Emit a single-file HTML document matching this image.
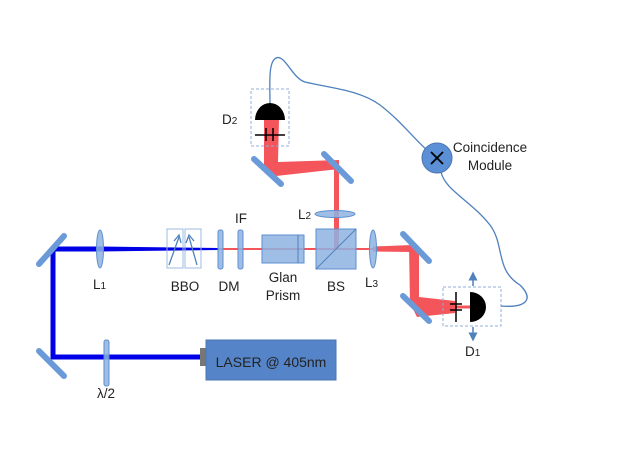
<!DOCTYPE html>
<html><head><style>
html,body{margin:0;padding:0;background:#fff;}
svg{display:block;}
text{font-family:"Liberation Sans",sans-serif;font-size:13.5px;fill:#222;}
</style></head><body>
<svg width="623" height="467" viewBox="0 0 623 467" xmlns="http://www.w3.org/2000/svg">
<defs>
<marker id="ah" markerWidth="6" markerHeight="6" refX="3" refY="3" orient="auto"><path d="M0,0 L6,3 L0,6 z" fill="#4f81bd"/></marker>
</defs>
<!-- blue beams -->
<polyline points="202,357 53,357 53,249 100,249" fill="none" stroke="#0000e6" stroke-width="5"/>
<polygon points="100,246.5 100,251.5 219,250 219,248" fill="#0000e6"/>
<!-- red thin beam -->
<line x1="219" y1="249" x2="373" y2="249" stroke="#f4555b" stroke-width="2"/>
<polygon points="373,246.5 412,245 412,252 373,251.5" fill="#f4555b"/>
<!-- red right down -->
<polygon points="409,246 419,246 419,297 455,301 455,313 417,317 410,303" fill="#f4555b"/>
<line x1="455" y1="307" x2="470" y2="307" stroke="#f4555b" stroke-width="3"/>
<!-- red up to D2 -->
<polygon points="334,250 339,250 339,163 334,163" fill="#f4555b"/>
<polygon points="264,120 279,120 278,162 339,160 339,169 276,176 264,172" fill="#f4555b"/>
<!-- mirrors -->
<g stroke="#6a9bd8" stroke-width="6" stroke-linecap="round" fill="none">
<line x1="39" y1="264" x2="64" y2="236"/>
<line x1="39" y1="351" x2="64" y2="376"/>
<line x1="403" y1="234" x2="429" y2="261"/>
<line x1="403" y1="296" x2="429" y2="321"/>
<line x1="324" y1="154" x2="351" y2="181"/>
<line x1="254" y1="159" x2="281" y2="184"/>
</g>
<!-- lenses -->
<g fill="#8db3e2" stroke="#5f8fcf" stroke-width="1" fill-opacity="0.85">
<ellipse cx="100" cy="249" rx="3.5" ry="19"/>
<ellipse cx="373" cy="249" rx="3.5" ry="19"/>
<ellipse cx="335" cy="214" rx="20" ry="3.5"/>
<rect x="104" y="340" width="5" height="46" rx="2"/>
<rect x="218" y="230" width="5" height="39" rx="2"/>
<rect x="238" y="230" width="5" height="39" rx="2"/>
<rect x="262" y="235" width="42" height="28"/>
<rect x="316" y="229" width="40" height="40"/>
</g>
<line x1="298" y1="235" x2="298" y2="263" stroke="#4f81bd" stroke-width="1"/>
<line x1="316" y1="269" x2="356" y2="229" stroke="#4f81bd" stroke-width="1"/>
<!-- BBO -->
<g fill="none" stroke="#9dbbe0" stroke-width="1">
<rect x="167" y="229" width="16" height="39"/>
<rect x="185" y="229" width="16" height="39"/>
</g>
<g stroke="#4f81bd" stroke-width="1.3" fill="none">
<line x1="169" y1="265" x2="179" y2="237"/><polyline points="174,241 179,235 181,243"/>
<line x1="197" y1="265" x2="189" y2="237"/><polyline points="186,243 189,235 194,241"/>
</g>
<!-- laser -->
<rect x="200" y="348" width="7" height="18" fill="#777"/>
<rect x="206" y="340" width="130" height="40" fill="#5585c8" stroke="#4a76b0"/>
<text x="271" y="367" text-anchor="middle" style="font-size:14px">LASER @ 405nm</text>
<!-- D2 -->
<rect x="251" y="89" width="38" height="57" fill="none" stroke="#8fb0d8" stroke-dasharray="3,2"/>
<path d="M255,120 A15,17 0 0 1 285,120 Z" fill="#000"/>
<line x1="255" y1="135" x2="285" y2="135" stroke="#000" stroke-width="1.5"/>
<line x1="266" y1="128" x2="266" y2="141" stroke="#000" stroke-width="1.5"/>
<line x1="273" y1="128" x2="273" y2="141" stroke="#000" stroke-width="1.5"/>
<!-- D1 -->
<rect x="443" y="287" width="58" height="39" fill="none" stroke="#8fb0d8" stroke-dasharray="3,2"/>
<path d="M470,292 A16,15 0 0 1 470,322 Z" fill="#000"/>
<line x1="456" y1="292" x2="456" y2="322" stroke="#000" stroke-width="1.5"/>
<line x1="450" y1="304" x2="462" y2="304" stroke="#000" stroke-width="1.5"/>
<line x1="450" y1="310" x2="462" y2="310" stroke="#000" stroke-width="1.5"/>
<line x1="473" y1="286" x2="473" y2="276" stroke="#4f81bd" stroke-width="1.5" marker-end="url(#ah)"/>
<line x1="473" y1="327" x2="473" y2="337" stroke="#4f81bd" stroke-width="1.5" marker-end="url(#ah)"/>
<!-- cable -->
<path d="M270,103 C270,85 268,62 276,58 C285,54 292,78 305,82 C330,88 360,90 380,105 C400,120 415,140 427,150" fill="none" stroke="#4f81bd" stroke-width="1.3"/>
<path d="M441,172 C445,190 470,200 490,225 C505,245 495,270 520,285 C535,300 525,308 501,306" fill="none" stroke="#4f81bd" stroke-width="1.3"/>
<!-- coincidence -->
<circle cx="437" cy="158" r="15" fill="#5b8fd6" stroke="#4a76b0"/>
<g stroke="#000" stroke-width="1.8"><line x1="431" y1="152" x2="443" y2="164"/><line x1="443" y1="152" x2="431" y2="164"/></g>
<text x="490" y="152" text-anchor="middle">Coincidence</text>
<text x="490" y="170" text-anchor="middle">Module</text>
<!-- labels -->
<text x="93" y="289">L<tspan style="font-size:10px">1</tspan></text>
<text x="185" y="291" text-anchor="middle">BBO</text>
<text x="229" y="291" text-anchor="middle">DM</text>
<text x="241" y="223" text-anchor="middle">IF</text>
<text x="283" y="282" text-anchor="middle">Glan</text>
<text x="283" y="300" text-anchor="middle">Prism</text>
<text x="336" y="291" text-anchor="middle">BS</text>
<text x="365" y="287">L<tspan style="font-size:10px">3</tspan></text>
<text x="298" y="219">L<tspan style="font-size:10px">2</tspan></text>
<text x="222" y="124">D<tspan style="font-size:10px">2</tspan></text>
<text x="465" y="356">D<tspan style="font-size:10px">1</tspan></text>
<text x="106" y="398" text-anchor="middle">λ/2</text>
</svg>
</body></html>
